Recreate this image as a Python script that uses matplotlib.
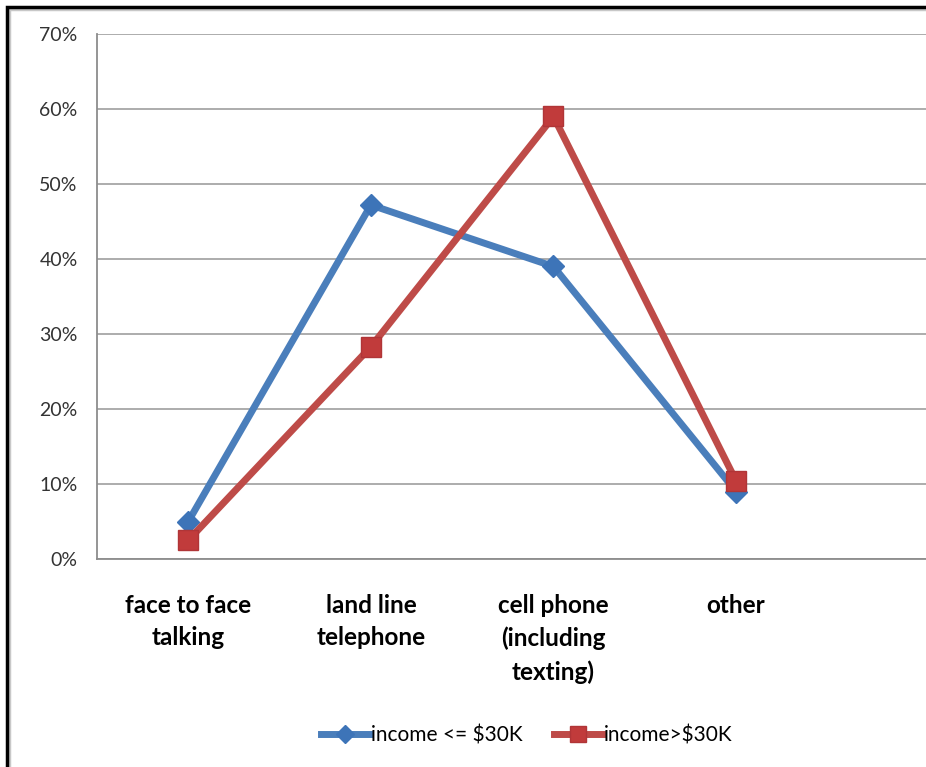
import numpy as np
import matplotlib.pyplot as plt
from matplotlib.patches import Rectangle
from matplotlib.ticker import PercentFormatter

plt.rcParams['font.family'] = ['Lato', 'DejaVu Sans']

# share of each contact method, by household income
categories = ['face to face\ntalking', 'land line\ntelephone',
              'cell phone\n(including\ntexting)', 'other']
low_income = [5, 47.2, 39, 9]      # income <= $30K
high_income = [2.5, 28.3, 59, 10.4]  # income > $30K
series_names = ['income <= $30K', 'income>$30K']
y_ticks = [0, 10, 20, 30, 40, 50, 60, 70]

fig = plt.figure(figsize=(9.26, 7.67), dpi=100)
ax = fig.add_axes([97 / 926, 1 - 559 / 767, 1 - 97 / 926, (559 - 34) / 767])

x = np.arange(len(categories))
ax.plot(x, low_income, color='#4a7ebb', lw=5, marker='D', ms=11,
        mfc='#3d74b8', mec='#3d74b8', label=series_names[0], zorder=3)
ax.plot(x, high_income, color='#be4b48', lw=5, marker='s', ms=15,
        mfc='#c13b3b', mec='#b03537', label=series_names[1], zorder=4)

ax.set_xlim(-0.5, 4.04)
ax.set_ylim(0, 70)
ax.set_yticks(y_ticks)
ax.yaxis.set_major_formatter(PercentFormatter(decimals=0))
ax.yaxis.grid(True, color='#a6a6a6', lw=1.3)
ax.set_axisbelow(True)
ax.set_xticks(x)
ax.set_xticklabels(categories, fontsize=17.5, fontweight='bold', linespacing=1.5)
ax.tick_params(axis='x', length=0, pad=25)
ax.tick_params(axis='y', length=0, pad=14, labelsize=14)
for lbl in ax.get_yticklabels():
    lbl.set_color('#333333')

for side in ['top', 'right']:
    ax.spines[side].set_visible(False)
for side in ['left', 'bottom']:
    ax.spines[side].set_color('#8c8c8c')
    ax.spines[side].set_linewidth(1.3)

ax.legend(loc='center', bbox_to_anchor=(527 / 926, 1 - 735 / 767),
          bbox_transform=fig.transFigure, ncol=2, frameon=False,
          fontsize=15, handlelength=2.3, handletextpad=0.1,
          columnspacing=1.5, markerscale=0.8)

# outer frame with a soft grey inner edge
fig.add_artist(Rectangle((9 / 926, -0.1), 1.2, 1 - 9 / 767 + 0.1,
                         transform=fig.transFigure, fill=False,
                         ec='#c8c8c8', lw=2.5))
fig.add_artist(Rectangle((7 / 926, -0.1), 1.2, 1 - 7 / 767 + 0.1,
                         transform=fig.transFigure, fill=False,
                         ec='black', lw=2.5))

fig.savefig('out.png', dpi=100)
